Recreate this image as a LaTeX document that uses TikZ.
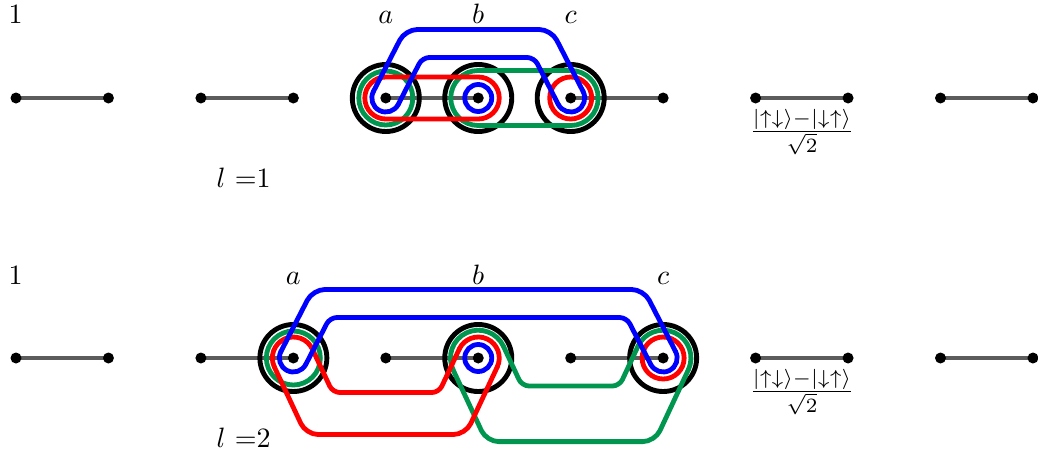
\documentclass[tikz,border=0pt]{standalone}
\usetikzlibrary{calc}

\definecolor{loopgreen}{RGB}{0,150,80}
\definecolor{bondgray}{RGB}{92,92,92}

\tikzset{
  bond/.style={bondgray, line width=3.5pt},
  site/.style={circle, fill=black, inner sep=0pt, minimum size=11pt},
  ring/.style={black, line width=4.9pt},
  gloop/.style={loopgreen, line width=4.8pt, line cap=round},
  rloop/.style={red, line width=4.8pt, line cap=round},
  bloop/.style={blue, line width=4.8pt, line cap=round},
  lbl/.style={scale=2.8, inner sep=0pt, anchor=base},
  frac/.style={scale=2.9, inner sep=0pt},
}

% A closed loop that leaves one site, runs parallel to the chain at a
% vertical offset, and comes back to a second site (a "bridge").
% #1 style, #2 x of left site, #3 x of right site, #4 y of both sites,
% #5 signed vertical offset of the centre line, #6 horizontal run of
% each slanted part, #7 half width of the loop.
\newcommand\bridgeloop[7]{%
  \pgfmathsetmacro\bA{abs(#5)}%
  \pgfmathsetmacro\bS{(#5)/\bA}%
  \pgfmathsetmacro\bL{sqrt((#6)*(#6)+\bA*\bA)}%
  \pgfmathsetmacro\bB{atan((#6)/\bA)}%
  \pgfmathsetmacro\bOx{(#7)*\bA/\bL}%
  \pgfmathsetmacro\bOy{(#7)*(#6)/\bL}%
  \pgfmathsetmacro\bXo{-\bOx+(\bA+(#7)-(#7)*(#6)/\bL)*(#6)/\bA}%
  \pgfmathsetmacro\bXi{\bOx+(\bA-(#7)+(#7)*(#6)/\bL)*(#6)/\bA}%
  \pgfmathsetmacro\bYo{(#4)+(\bS)*(\bA+(#7))}%
  \pgfmathsetmacro\bYi{(#4)+(\bS)*(\bA-(#7))}%
  \pgfmathsetmacro\bYs{(#4)+(\bS)*(\bOy)}%
  \pgfmathsetmacro\bYt{(#4)-(\bS)*(\bOy)}%
  \pgfmathsetmacro\bQa{(\bS)*(\bB)}%
  \pgfmathsetmacro\bQb{(\bS)*(\bB)-180*(\bS)}%
  \pgfmathsetmacro\bPa{-(\bS)*(\bB)}%
  \pgfmathsetmacro\bPb{-(\bS)*(\bB)-180*(\bS)}%
  \draw[#1, rounded corners=12] ({#2-\bOx},\bYs) -- ({#2+\bXo},\bYo)
     -- ({#3-\bXo},\bYo) -- ({#3+\bOx},\bYs);
  \draw[#1] ({#3+\bOx},\bYs) arc[start angle=\bQa, end angle=\bQb, radius=#7];
  \draw[#1, rounded corners=7] ({#3-\bOx},\bYt) -- ({#3-\bXi},\bYi)
     -- ({#2+\bXi},\bYi) -- ({#2+\bOx},\bYt);
  \draw[#1] ({#2+\bOx},\bYt) arc[start angle=\bPa, end angle=\bPb, radius=#7];
}

\begin{document}
\begin{tikzpicture}[x=1pt,y=-1pt]
\useasboundingbox (0,0) rectangle (1038,452);

% lattice sites of the two chains
\foreach \k in {0,...,11}{
  \coordinate (t\k) at ({16+92.45*\k},98);
  \coordinate (u\k) at ({16+92.45*\k},358);
}

% singlet bonds
\foreach \i/\j in {0/1,2/3,4/5,6/7,8/9,10/11}{
  \draw[bond] (t\i) -- (t\j);
  \draw[bond] (u\i) -- (u\j);
}

% outer rings on the sites a, b, c
\foreach \k in {4,5,6} \draw[ring] (t\k) circle[radius=33.5];
\foreach \k in {3,5,7} \draw[ring] (u\k) circle[radius=33.5];

% ---- upper chain, l = 1 ----
\draw[gloop] (t4) circle[radius=27];
\draw[gloop, rounded corners=27.5] ($(t5)+(-27.5,-27.5)$) rectangle ($(t6)+(27.5,27.5)$);
\draw[rloop, rounded corners=21] ($(t4)+(-21,-21)$) rectangle ($(t5)+(21,21)$);
\draw[rloop] (t6) circle[radius=21];
\draw[bloop] (t5) circle[radius=13.5];
\bridgeloop{bloop}{385.8}{570.7}{98}{-54.5}{28}{14}

% ---- lower chain, l = 2 ----
\draw[gloop] (u3) circle[radius=27];
\bridgeloop{gloop}{478.25}{663.15}{358}{55.8}{26}{27.8}
\bridgeloop{rloop}{293.35}{478.25}{358}{55.5}{26}{21}
\draw[rloop] (u7) circle[radius=21];
\draw[bloop] (u5) circle[radius=13.5];
\bridgeloop{bloop}{293.35}{663.15}{358}{-54.5}{28}{14}

% site dots
\foreach \k in {0,...,11}{
  \node[site] (dt\k) at (t\k) {};
  \node[site] (du\k) at (u\k) {};
}

% labels
\node[lbl, anchor=base west] (w1) at (8,24) {1};
\node[lbl] (ta) at (385.8,24) {$a$};
\node[lbl] (tb) at (478.25,24) {$b$};
\node[lbl] (tc) at (570.7,24) {$c$};
\node[lbl, anchor=base west] (tl) at (216,187) {$l$ =1};
\node[frac] (tf) at (802,132)
  {$\frac{|\uparrow\downarrow\rangle-|\downarrow\uparrow\rangle}{\sqrt{2}}$};

\node[lbl, anchor=base west] (w2) at (8,284) {1};
\node[lbl] (ua) at (293.35,284) {$a$};
\node[lbl] (ub) at (478.25,284) {$b$};
\node[lbl] (uc) at (663.15,284) {$c$};
\node[lbl, anchor=base west] (ul) at (216,447) {$l$ =2};
\node[frac] (uf) at (802,392)
  {$\frac{|\uparrow\downarrow\rangle-|\downarrow\uparrow\rangle}{\sqrt{2}}$};
\end{tikzpicture}
\end{document}
